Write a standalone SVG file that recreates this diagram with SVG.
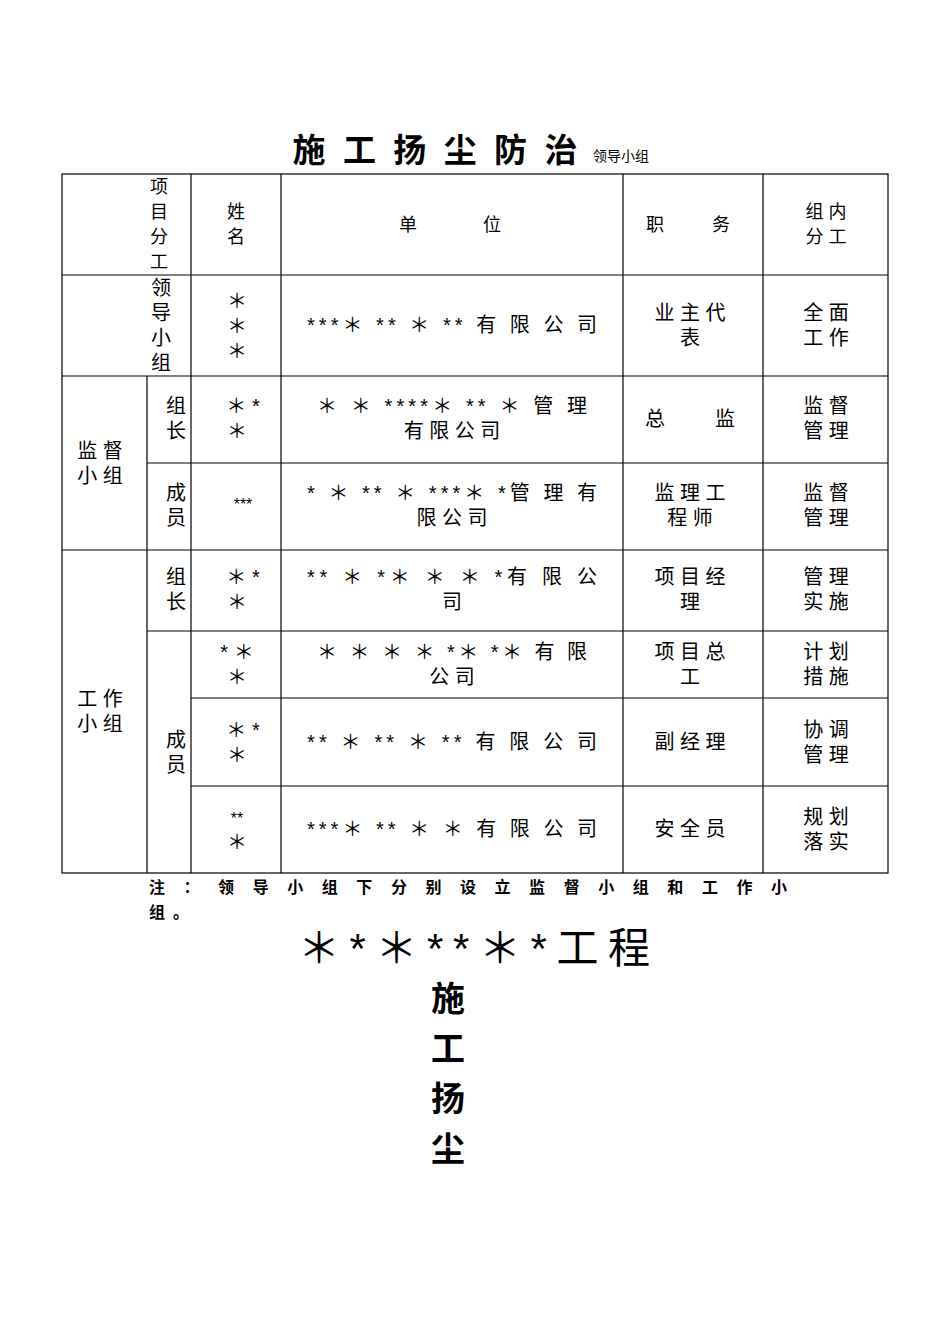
<svg xmlns="http://www.w3.org/2000/svg" width="950" height="1344" viewBox="0 0 950 1344">
<style>
text{font-family:"Liberation Sans","Noto Sans CJK SC",sans-serif;fill:#000}
.c{font-size:20px;text-anchor:middle}
.l{stroke:#000;stroke-width:1.2;fill:none}
.b{font-weight:bold}
</style>
<rect width="950" height="1344" fill="#fff"/>
<g id="title">
<text x="435" y="162" class="c b" style="font-size:33px" textLength="285">施工扬尘防治</text>
<text x="593" y="161" style="font-size:14px">领导小组</text>
</g>
<g id="grid" class="l">
<rect x="62" y="174" width="826" height="699"/>
<line x1="62" y1="275" x2="888" y2="275"/>
<line x1="62" y1="376" x2="888" y2="376"/>
<line x1="147" y1="463" x2="888" y2="463"/>
<line x1="62" y1="550" x2="888" y2="550"/>
<line x1="147" y1="631" x2="888" y2="631"/>
<line x1="191" y1="698" x2="888" y2="698"/>
<line x1="191" y1="786" x2="888" y2="786"/>
<line x1="147" y1="376" x2="147" y2="873"/>
<line x1="191" y1="174" x2="191" y2="873"/>
<line x1="281" y1="174" x2="281" y2="873"/>
<line x1="623" y1="174" x2="623" y2="873"/>
<line x1="763" y1="174" x2="763" y2="873"/>
</g>
<g id="header">
<text class="c" style="font-size:18px" x="159" y="193">项</text>
<text class="c" style="font-size:18px" x="159" y="218">目</text>
<text class="c" style="font-size:18px" x="159" y="243">分</text>
<text class="c" style="font-size:18px" x="159" y="268">工</text>
<text class="c" style="font-size:18px" x="236" y="218">姓</text>
<text class="c" style="font-size:18px" x="236" y="243">名</text>
<text class="c" style="font-size:18px" x="408" y="231">单</text>
<text class="c" style="font-size:18px" x="492" y="231">位</text>
<text class="c" style="font-size:18px" x="655" y="231">职</text>
<text class="c" style="font-size:18px" x="721" y="231">务</text>
<text class="c" style="font-size:18px" x="826" y="218">组 内</text>
<text class="c" style="font-size:18px" x="826" y="243">分 工</text>
</g>
<g id="row-lead">
<text class="c" x="161" y="295">领</text>
<text class="c" x="161" y="320">导</text>
<text class="c" x="161" y="345">小</text>
<text class="c" x="161" y="370">组</text>
<text class="c" x="237" y="308">＊</text>
<text class="c" x="237" y="333">＊</text>
<text class="c" x="237" y="358">＊</text>
<text class="c" x="452" y="332" textLength="290">***＊ ** ＊ ** 有 限 公 司</text>
<text class="c" x="690" y="320">业 主 代</text>
<text class="c" x="690" y="345">表</text>
<text class="c" x="826" y="320">全 面</text>
<text class="c" x="826" y="345">工 作</text>
</g>
<g id="group-sup">
<text class="c" x="100" y="458">监 督</text>
<text class="c" x="100" y="483">小 组</text>
</g>
<g id="row-sup-lead">
<text class="c" x="176" y="413">组</text>
<text class="c" x="176" y="438">长</text>
<text class="c" x="243" y="413">＊ *</text>
<text class="c" x="237" y="438">＊</text>
<text class="c" x="452" y="413" textLength="270">＊ ＊ ****＊ ** ＊ 管 理</text>
<text class="c" x="452" y="438">有 限 公 司</text>
<text class="c" x="690" y="426" textLength="90">总 监</text>
<text class="c" x="826" y="413">监 督</text>
<text class="c" x="826" y="438">管 理</text>
</g>
<g id="row-sup-mem">
<text class="c" x="176" y="500">成</text>
<text class="c" x="176" y="525">员</text>
<text class="c" x="243" y="510" style="font-size:16px">***</text>
<text class="c" x="452" y="500" textLength="290">* ＊ ** ＊ ***＊ *管 理 有</text>
<text class="c" x="452" y="525">限 公 司</text>
<text class="c" x="690" y="500">监 理 工</text>
<text class="c" x="690" y="525">程 师</text>
<text class="c" x="826" y="500">监 督</text>
<text class="c" x="826" y="525">管 理</text>
</g>
<g id="group-work">
<text class="c" x="100" y="706">工 作</text>
<text class="c" x="100" y="731">小 组</text>
</g>
<g id="row-work-lead">
<text class="c" x="176" y="584">组</text>
<text class="c" x="176" y="609">长</text>
<text class="c" x="243" y="584">＊ *</text>
<text class="c" x="237" y="609">＊</text>
<text class="c" x="452" y="584" textLength="290">** ＊ *＊ ＊ ＊ *有 限 公</text>
<text class="c" x="452" y="609">司</text>
<text class="c" x="690" y="584">项 目 经</text>
<text class="c" x="690" y="609">理</text>
<text class="c" x="826" y="584">管 理</text>
<text class="c" x="826" y="609">实 施</text>
</g>
<g id="row-work-mem">
<text class="c" x="176" y="747">成</text>
<text class="c" x="176" y="772">员</text>
</g>
<g id="row-m1">
<text class="c" x="237" y="659">* ＊</text>
<text class="c" x="237" y="684">＊</text>
<text class="c" x="452" y="659" textLength="270">＊ ＊ ＊ ＊ *＊ *＊ 有 限</text>
<text class="c" x="452" y="684">公 司</text>
<text class="c" x="690" y="659">项 目 总</text>
<text class="c" x="690" y="684">工</text>
<text class="c" x="826" y="659">计 划</text>
<text class="c" x="826" y="684">措 施</text>
</g>
<g id="row-m2">
<text class="c" x="243" y="737">＊ *</text>
<text class="c" x="237" y="762">＊</text>
<text class="c" x="452" y="749" textLength="290">** ＊ ** ＊ ** 有 限 公 司</text>
<text class="c" x="690" y="749">副 经 理</text>
<text class="c" x="826" y="737">协 调</text>
<text class="c" x="826" y="762">管 理</text>
</g>
<g id="row-m3">
<text class="c" x="237" y="824" style="font-size:16px">**</text>
<text class="c" x="237" y="849">＊</text>
<text class="c" x="452" y="836" textLength="290">***＊ ** ＊ ＊ 有 限 公 司</text>
<text class="c" x="690" y="836">安 全 员</text>
<text class="c" x="826" y="824">规 划</text>
<text class="c" x="826" y="849">落 实</text>
</g>
<g id="note">
<text x="149" y="893" class="b" style="font-size:16px" textLength="638">注：领导小组下分别设立监督小组和工作小</text>
<text x="149" y="918" class="b" style="font-size:16px" textLength="40">组。</text>
</g>
<g id="cover">
<text x="298" y="963" style="font-size:42px" textLength="352">＊*＊**＊*工程</text>
<text x="448" y="1011" class="c b" style="font-size:34px">施</text>
<text x="448" y="1061" class="c b" style="font-size:34px">工</text>
<text x="448" y="1111" class="c b" style="font-size:34px">扬</text>
<text x="448" y="1161" class="c b" style="font-size:34px">尘</text>
</g>
</svg>
